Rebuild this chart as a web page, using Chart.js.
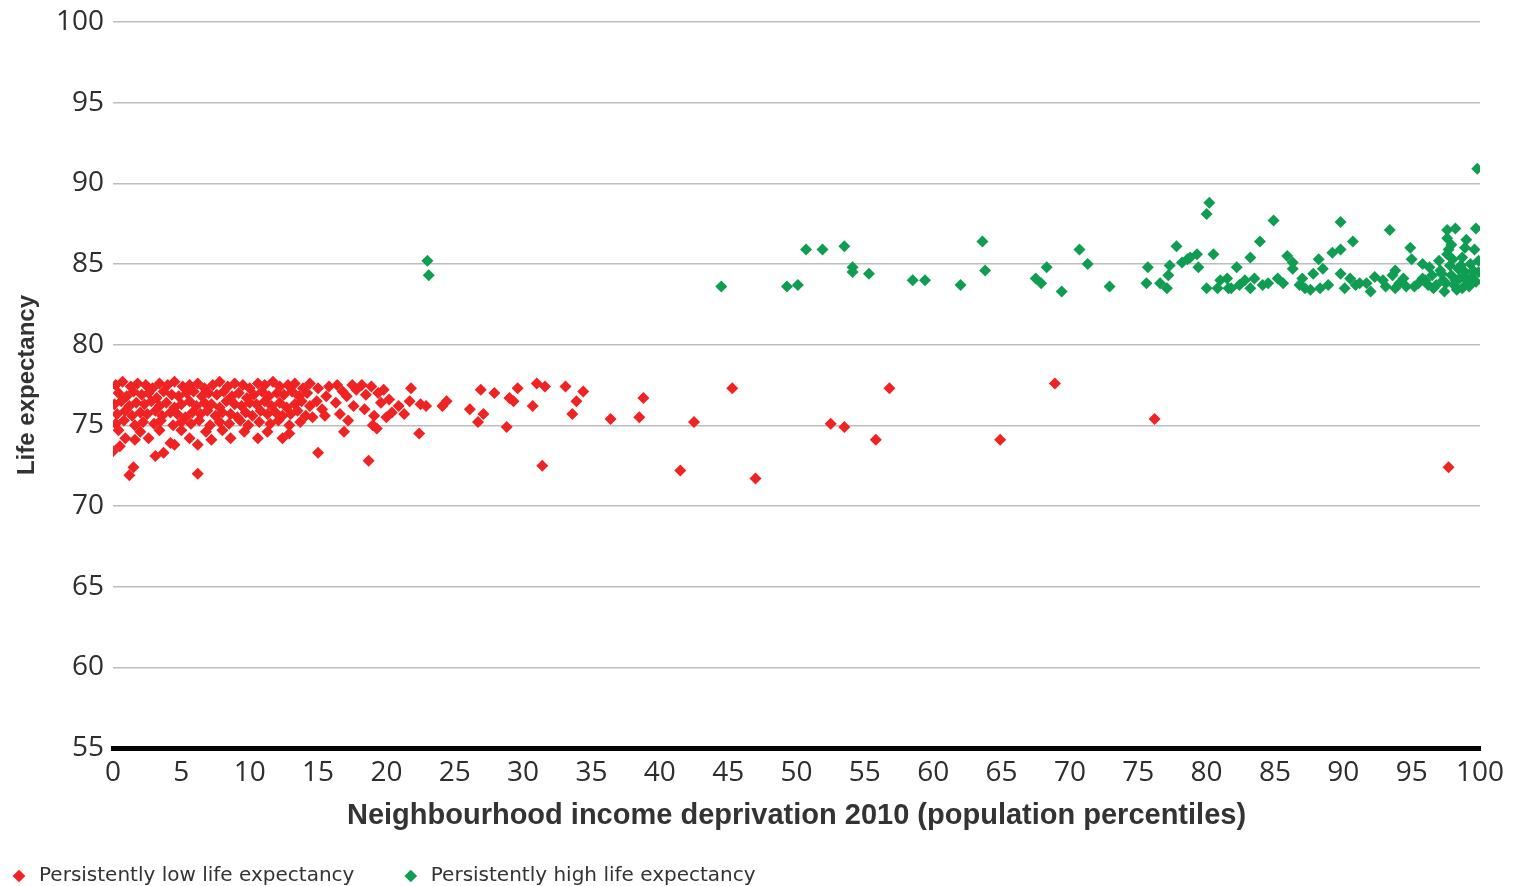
<!DOCTYPE html>
<html>
<head>
<meta charset="utf-8">
<script src="https://cdn.jsdelivr.net/npm/chart.js@4.4.1/dist/chart.umd.min.js"></script>
<style>
  html, body { margin: 0; padding: 0; background: #ffffff; }
  #wrap { position: relative; width: 1516px; height: 886px; }
</style>
</head>
<body>
<div id="wrap"><canvas id="c"></canvas></div>
<script>
// ---- Data ----
const seriesNames = ["Persistently low life expectancy", "Persistently high life expectancy"];
const seriesColors = ["#f02222", "#0f9d52"];

const yTicks = [55, 60, 65, 70, 75, 80, 85, 90, 95, 100];
const xTicks = [0, 5, 10, 15, 20, 25, 30, 35, 40, 45, 50, 55, 60, 65, 70, 75, 80, 85, 90, 95, 100];

// [percentile, life expectancy]
const lowPoints = [
  // dense band 0-15, upper part
  [0.2,77.5],[0.7,77.7],[1.3,77.4],[1.8,77.6],[2.4,77.5],[2.9,77.3],[3.4,77.6],[4.0,77.5],[4.5,77.7],[5.1,77.4],
  [5.6,77.5],[6.2,77.6],[6.7,77.3],[7.3,77.5],[7.8,77.7],[8.4,77.4],[8.9,77.6],[9.5,77.5],[10.0,77.3],[10.6,77.6],
  [11.1,77.5],[11.7,77.7],[12.2,77.4],[12.8,77.5],[13.3,77.6],[13.9,77.3],[14.4,77.6],
  [0.4,77.0],[1.0,76.8],[1.5,77.1],[2.1,76.9],[2.6,77.0],[3.2,76.7],[3.7,77.1],[4.3,76.9],[4.8,76.8],[5.4,77.0],
  [5.9,77.1],[6.5,76.8],[7.0,77.0],[7.6,76.9],[8.1,77.1],[8.7,76.8],[9.2,77.0],[9.8,76.7],[10.3,76.9],[10.9,77.1],
  [11.4,76.8],[12.0,77.0],[12.5,76.9],[13.1,77.1],[13.6,76.8],[14.2,77.0],
  [0.1,76.3],[0.6,76.5],[1.2,76.2],[1.7,76.4],[2.3,76.3],[2.8,76.5],[3.4,76.2],[3.9,76.4],[4.5,76.1],[5.0,76.3],
  [5.6,76.5],[6.1,76.2],[6.7,76.4],[7.2,76.3],[7.8,76.1],[8.3,76.5],[8.9,76.3],[9.4,76.2],[10.0,76.4],[10.5,76.3],
  [11.1,76.5],[11.6,76.2],[12.2,76.4],[12.7,76.1],[13.3,76.3],[13.8,76.5],[14.4,76.2],
  [0.3,75.7],[0.9,75.9],[1.4,75.6],[2.0,75.8],[2.5,75.7],[3.1,75.9],[3.6,75.6],[4.2,75.8],[4.7,75.7],[5.3,75.5],
  [5.8,75.8],[6.4,75.7],[6.9,75.9],[7.5,75.6],[8.0,75.8],[8.6,75.7],[9.1,75.5],[9.7,75.8],[10.2,75.6],[10.8,75.9],
  [11.3,75.7],[11.9,75.8],[12.4,75.6],[13.0,75.7],[13.5,75.9],[14.1,75.6],
  [0.2,75.1],[0.8,75.3],[1.6,75.0],[2.2,75.2],[3.0,75.1],[3.5,75.3],[4.4,75.0],[5.0,75.2],[5.7,75.1],[6.3,75.3],
  [7.1,75.0],[7.8,75.2],[8.5,75.1],[9.3,75.3],[9.9,75.0],[10.7,75.2],[11.5,75.1],[12.1,75.3],[12.9,75.0],[13.7,75.2],
  // dense band 0-15, lower scatter
  [0.4,74.7],[2.0,74.6],[3.4,74.7],[5.0,74.7],[6.8,74.6],[8.0,74.7],[9.6,74.6],
  [0.0,73.4],[0.5,73.7],[0.9,74.2],[1.6,74.1],[2.6,74.2],[3.1,73.1],[3.7,73.3],[4.2,73.9],[4.5,73.8],[5.6,74.2],
  [6.2,73.8],[7.2,74.1],[8.6,74.2],[10.6,74.2],[11.3,74.6],[12.4,74.2],[12.9,74.5],
  [1.5,72.4],[1.2,71.9],[6.2,72.0],
  // 15-22
  [14.6,75.5],[14.9,76.5],[15.0,77.3],[15.0,73.3],[15.6,76.8],[15.3,76.0],[15.8,77.4],[15.5,75.6],
  [16.4,77.5],[16.8,77.1],[16.3,76.4],[17.1,76.8],[17.5,77.5],[16.6,75.7],[17.2,75.3],[16.9,74.6],[17.8,77.2],[17.6,76.2],
  [18.2,77.5],[18.7,72.8],[18.5,76.9],[18.9,77.4],[18.4,76.0],[19.1,75.6],[19.3,74.8],[19.0,75.0],[19.6,76.4],[19.8,77.2],
  [20.2,76.6],[20.4,75.8],[20.9,76.2],[21.3,75.7],[21.7,76.5],[21.8,77.3],[19.4,77.0],[20.0,75.5],
  // scattered
  [22.4,74.5],[22.5,76.3],[22.9,76.2],[24.1,76.2],[24.4,76.5],[26.1,76.0],[26.7,75.2],[26.9,77.2],[27.1,75.7],[27.9,77.0],
  [28.8,74.9],[29.0,76.7],[29.3,76.5],[29.6,77.3],[30.7,76.2],[31.0,77.6],[31.6,77.4],[33.1,77.4],[33.6,75.7],[33.9,76.5],[34.4,77.1],
  [31.4,72.5],[36.4,75.4],[38.5,75.5],[38.8,76.7],[41.5,72.2],[42.5,75.2],[45.3,77.3],[47.0,71.7],
  [52.5,75.1],[53.5,74.9],[55.8,74.1],[56.8,77.3],[64.9,74.1],[68.9,77.6],[76.2,75.4],[97.7,72.4]
];

const highPoints = [
  [23.0,85.2],[23.1,84.3],[44.5,83.6],[49.3,83.6],[50.1,83.7],[50.7,85.9],[51.9,85.9],[53.5,86.1],
  [54.1,84.8],[54.1,84.5],[55.3,84.4],[58.5,84.0],[59.4,84.0],[62.0,83.7],[63.6,86.4],[63.8,84.6],
  [67.5,84.1],[67.9,83.8],[68.3,84.8],[69.4,83.3],[70.7,85.9],[71.3,85.0],[72.9,83.6],
  [75.7,84.8],[75.6,83.8],[76.6,83.8],[77.1,83.5],[77.2,84.3],[77.3,84.9],[77.8,86.1],[78.2,85.1],
  [78.6,85.3],[78.8,85.4],[79.3,85.6],[79.4,84.8],[80.0,88.1],[80.2,88.8],[80.5,85.6],[80.0,83.5],
  [80.8,83.5],[81.5,84.1],[81.6,83.5],[82.2,84.8],[83.2,85.4],[83.5,84.1],[83.2,83.5],[83.9,86.4],
  [84.9,87.7],[84.5,83.8],[85.2,84.1],[85.6,83.8],[85.9,85.5],[86.3,85.1],[86.3,84.7],[87.0,84.1],
  [87.2,83.5],[87.8,84.4],[88.2,85.3],[88.3,83.5],[88.5,84.7],[89.2,85.7],[89.8,85.9],[89.8,87.6],
  [90.7,86.4],[89.8,84.4],[90.5,84.1],[91.2,83.8],[91.7,83.8],[92.3,84.2],[92.9,84.0],[93.4,87.1],
  [93.8,84.6],[93.8,83.5],[94.4,84.1],[94.9,86.0],[95.0,85.3],[95.8,85.0],[95.8,84.1],
  [82.4,83.7],[82.8,84.0],[84.1,83.7],[86.8,83.7],[87.6,83.4],[88.9,83.7],[90.1,83.5],[90.9,83.7],
  [92.0,83.3],[81.8,83.5],[81.0,84.0],
  [97.6,87.1],[97.6,86.6],[98.2,87.2],[99.0,86.5],[99.7,87.2],[97.7,85.9],[98.7,85.4],[99.3,85.0],
  [99.6,85.9],[99.9,84.5],[99.8,90.9],
  [97.1,84.6],[97.3,84.0],[97.4,83.3],[97.8,84.9],[97.9,84.3],[98.1,83.7],[98.4,84.7],[98.5,84.1],
  [98.7,83.5],[98.9,84.5],[99.1,83.8],[99.4,84.2],[96.8,83.7],[96.5,84.3],[96.2,83.7],[95.5,83.8],
  [95.2,83.6],[94.6,83.6],[94.1,83.8],[93.6,84.3],[93.1,83.6],[96.3,84.8],[98.0,85.3],[97.6,85.6],
  [96.0,84.0],[96.6,83.5],[97.0,85.2],[97.2,84.4],[97.5,83.8],[98.2,84.0],[98.3,83.4],[98.6,84.9],
  [98.8,84.2],[99.2,83.6],[99.5,84.6],[99.7,83.9],[99.9,85.2],[97.9,86.2],[98.9,86.0]
];

// ---- Chart ----
const toXY = arr => arr.map(p => ({ x: p[0], y: p[1] }));
const xTickFont = { family: "'Open Sans', 'Noto Sans', sans-serif", size: 28 };
const yTickFont = { family: "'Open Sans', 'Noto Sans', sans-serif", size: 28, lineHeight: 0.9 };
const xTitleFont = { family: "'Liberation Sans', Arial, sans-serif", size: 29, weight: 'bold' };
const yTitleFont = { family: "'Liberation Sans', Arial, sans-serif", size: 24, weight: 'bold' };
const legendFont = { family: "'DejaVu Sans', sans-serif", size: 20 };

const LEFT_PAD = 9;
const BOTTOM_PAD = -10;
const PLOT_BOTTOM = 748;

new Chart(document.getElementById('c'), {
  type: 'scatter',
  data: {
    datasets: [
      { label: seriesNames[0], data: toXY(lowPoints), backgroundColor: seriesColors[0], borderColor: seriesColors[0],
        pointStyle: 'rectRot', pointRadius: 6, pointBorderWidth: 0, pointHoverRadius: 6 },
      { label: seriesNames[1], data: toXY(highPoints), backgroundColor: seriesColors[1], borderColor: seriesColors[1],
        pointStyle: 'rectRot', pointRadius: 6, pointBorderWidth: 0, pointHoverRadius: 6 }
    ]
  },
  options: {
    responsive: true,
    maintainAspectRatio: false,
    animation: false,
    layout: { padding: { left: LEFT_PAD, right: 36, top: 22, bottom: BOTTOM_PAD } },
    plugins: {
      tooltip: { enabled: false },
      legend: {
        display: true,
        position: 'bottom',
        align: 'start',
        labels: {
          usePointStyle: true,
          boxHeight: 9,
          padding: 0,
          color: '#333333',
          font: legendFont,
          generateLabels: chart => {
            const items = Chart.defaults.plugins.legend.labels.generateLabels(chart);
            // widen the gap after the first entry, as in the reference
            if (items.length > 1) items[0].text = items[0].text + '\u2003\u2003 ';
            return items;
          }
        }
      }
    },
    scales: {
      x: {
        type: 'linear',
        position: 'bottom',
        min: 0, max: 100,
        afterBuildTicks: s => { s.ticks = xTicks.map(v => ({ value: v })); },
        afterFit: s => {
          const lh = s.chart.legend ? s.chart.legend.height : 24;
          s.height = s.chart.height - BOTTOM_PAD - lh - PLOT_BOTTOM;
        },
        ticks: { color: '#2e2e2e', font: xTickFont, padding: 8, maxRotation: 0, autoSkip: false },
        grid: { display: false, drawTicks: false },
        border: { display: true, color: '#000000', width: 5 },
        title: {
          display: true,
          text: 'Neighbourhood income deprivation 2010 (population percentiles)',
          color: '#333333',
          font: xTitleFont,
          padding: { top: 0, bottom: 33 }
        }
      },
      y: {
        type: 'linear',
        min: 55, max: 100,
        afterBuildTicks: s => { s.ticks = yTicks.map(v => ({ value: v })); },
        afterFit: s => { s.width = 113 - LEFT_PAD; },
        ticks: { color: '#2e2e2e', font: yTickFont, padding: 9 },
        grid: {
          drawTicks: false,
          lineWidth: 1.5,
          color: ctx => (ctx.tick && ctx.tick.value === 55) ? 'rgba(0,0,0,0)' : '#bdbdbd'
        },
        border: { display: false },
        title: {
          display: true,
          text: 'Life expectancy',
          color: '#333333',
          font: yTitleFont,
          padding: { top: 4, bottom: 0 }
        }
      }
    }
  }
});
</script>
</body>
</html>
